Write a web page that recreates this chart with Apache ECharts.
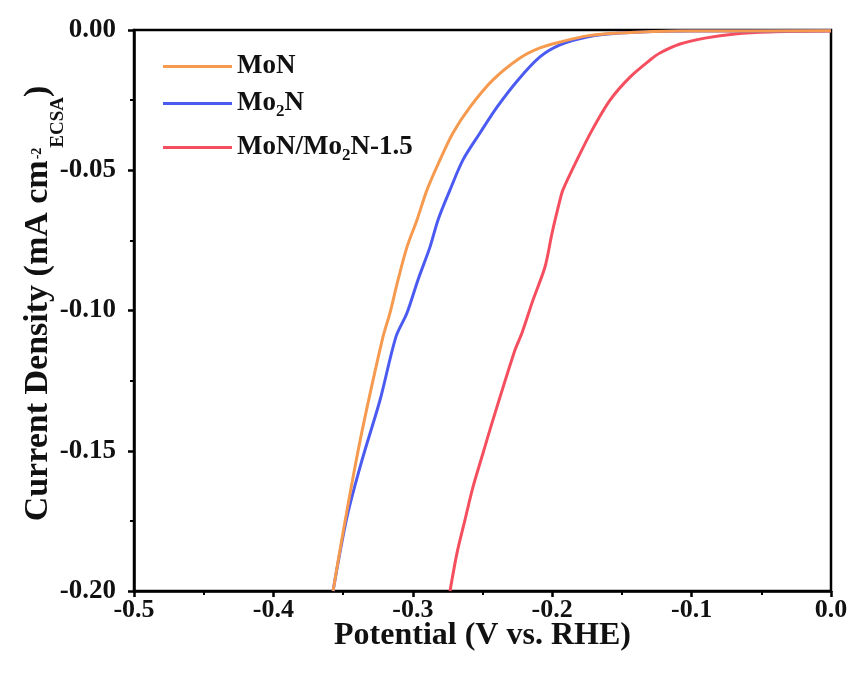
<!DOCTYPE html>
<html><head><meta charset="utf-8">
<script src="https://cdn.jsdelivr.net/npm/echarts@6/dist/echarts.min.js"></script>
<style>html,body{margin:0;padding:0;background:#fff}#c{width:853px;height:677px}</style>
</head><body><div id="c"></div>
<script>
const seriesNames = ['MoN', 'Mo2N', 'MoN/Mo2N-1.5'];
const xTicks = ['-0.5', '-0.4', '-0.3', '-0.2', '-0.1', '0.0'];
const yTicks = ['0.00', '-0.05', '-0.10', '-0.15', '-0.20'];
const monV = [-0.3572, -0.3501, -0.3415, -0.3343, -0.3214, -0.3164, -0.3106, -0.3042, -0.2970, -0.2898, -0.2805, -0.2712, -0.2590, -0.2425, -0.2231, -0.2088, -0.1944, -0.1750, -0.1514, -0.1083, 0.0];
const monJ = [-0.2000, -0.1793, -0.1558, -0.1380, -0.1094, -0.1009, -0.0891, -0.0774, -0.0677, -0.0570, -0.0463, -0.0367, -0.0275, -0.0178, -0.0100, -0.0064, -0.0043, -0.0021, -0.0011, -0.0004, -0.0003];
const mo2nV = [-0.3572, -0.3472, -0.3364, -0.3235, -0.3121, -0.3042, -0.2963, -0.2877, -0.2819, -0.2733, -0.2640, -0.2518, -0.2396, -0.2245, -0.2088, -0.1944, -0.1750, -0.1514, -0.1011, 0.0];
const mo2nJ = [-0.2000, -0.1736, -0.1533, -0.1319, -0.1094, -0.1009, -0.0891, -0.0774, -0.0677, -0.0570, -0.0463, -0.0367, -0.0275, -0.0178, -0.0096, -0.0053, -0.0025, -0.0011, -0.0004, -0.0003];
const hetV = [-0.2733, -0.2683, -0.2626, -0.2568, -0.2496, -0.2425, -0.2267, -0.2217, -0.2138, -0.2052, -0.2001, -0.1944, -0.1923, -0.1822, -0.1714, -0.1585, -0.1442, -0.1298, -0.1227, -0.1083, -0.0904, -0.0689, -0.0438, 0.0];
const hetJ = [-0.2000, -0.1865, -0.1747, -0.1629, -0.1508, -0.1390, -0.1141, -0.1080, -0.0963, -0.0845, -0.0724, -0.0606, -0.0570, -0.0463, -0.0357, -0.0250, -0.0168, -0.0107, -0.0082, -0.0050, -0.0029, -0.0014, -0.0007, -0.0004];
const colors = ['#F59A4E', '#4B5BF2', '#F54F5F'];

const zip = (a, b) => a.map((v, i) => [v, b[i]]);
const dataSets = [zip(monV, monJ), zip(mo2nV, mo2nJ), zip(hetV, hetJ)];
const F = '"Liberation Serif","Times New Roman",serif';
const B = { fontFamily: F, fontWeight: 'bold', color: '#111' };
const chart = echarts.init(document.getElementById('c'));
chart.setOption({
  backgroundColor: '#fff',
  animation: false,
  grid: { left: 134, right: 22, top: 30, bottom: 86, show: true, borderColor: '#000', borderWidth: 2.5,
    backgroundColor: 'transparent', outerBoundsMode: 'none', containLabel: false },
  legend: {
    orient: 'vertical', left: 163, top: 53, itemGap: 10, padding: 0,
    itemWidth: 69, itemHeight: 3,
    data: seriesNames.map((n, i) => ({ name: n, icon: 'rect', itemStyle: { color: colors[i] } })),
    formatter: n => n.indexOf('Mo2N') < 0 ? '{a|' + n + '}'
      : n.split('Mo2N').map(s => s ? '{b|' + s + '}' : '').join('{b|Mo}{s|2}{b|N}'),
    textStyle: Object.assign({}, B, { fontSize: 27,
      rich: {
        a: Object.assign({}, B, { fontSize: 27, lineHeight: 27 }),
        b: Object.assign({}, B, { fontSize: 27, lineHeight: 27, verticalAlign: 'top', padding: [0, 0, 0, 0] }),
        s: Object.assign({}, B, { fontSize: 17, lineHeight: 17, verticalAlign: 'top', padding: [13, 0, 4, 0] })
      } })
  },
  xAxis: {
    type: 'value', min: -0.5, max: 0, interval: 0.1,
    name: 'Potential (V vs. RHE)', nameLocation: 'middle', nameGap: 29, nameMoveOverlap: false,
    nameTextStyle: Object.assign({}, B, { fontSize: 32 }),
    axisLine: { onZero: false, lineStyle: { color: '#000', width: 2.5 } },
    axisTick: { show: true, length: 6, lineStyle: { color: '#000', width: 2.5 } },
    minorTick: { show: true, splitNumber: 2, length: 4, lineStyle: { color: '#000', width: 2 } },
    splitLine: { show: false },
    axisLabel: Object.assign({}, B, { fontSize: 26, margin: 6,
      formatter: v => xTicks[Math.round((v + 0.5) / 0.1)] })
  },
  yAxis: {
    type: 'value', min: -0.2, max: 0, interval: 0.05,
    name: '{m0|Current Density (mA cm}{sup|-2}{sub|ECSA}{m|)}', nameLocation: 'middle', nameGap: 83, nameMoveOverlap: false,
    nameTextStyle: Object.assign({}, B, { fontSize: 34,
      rich: {
        m0: Object.assign({}, B, { fontSize: 34, lineHeight: 34, verticalAlign: 'top', padding: [4, 0, 0, 14] }),
        m: Object.assign({}, B, { fontSize: 34, lineHeight: 34, verticalAlign: 'top', padding: [4, 0, 0, 0] }),
        sup: Object.assign({}, B, { fontSize: 14, lineHeight: 14, verticalAlign: 'top', padding: [13, 0, 0, 1] }),
        sub: Object.assign({}, B, { fontSize: 19, lineHeight: 19, verticalAlign: 'top', padding: [32, 0, 0, 0] })
      } }),
    axisLine: { onZero: false, lineStyle: { color: '#000', width: 2.5 } },
    axisTick: { show: true, length: 6, lineStyle: { color: '#000', width: 2.5 } },
    minorTick: { show: true, splitNumber: 2, length: 4, lineStyle: { color: '#000', width: 2 } },
    splitLine: { show: false },
    axisLabel: Object.assign({}, B, { fontSize: 27, margin: 18,
      formatter: v => yTicks[Math.round(-v / 0.05)] })
  },
  series: dataSets.map((d, i) => ({
    name: seriesNames[i], type: 'line', data: d, smooth: 0.3, symbol: 'none',
    lineStyle: { color: colors[i], width: 3 }, itemStyle: { color: colors[i] }, z: 3 - i
  }))
});
</script></body></html>
